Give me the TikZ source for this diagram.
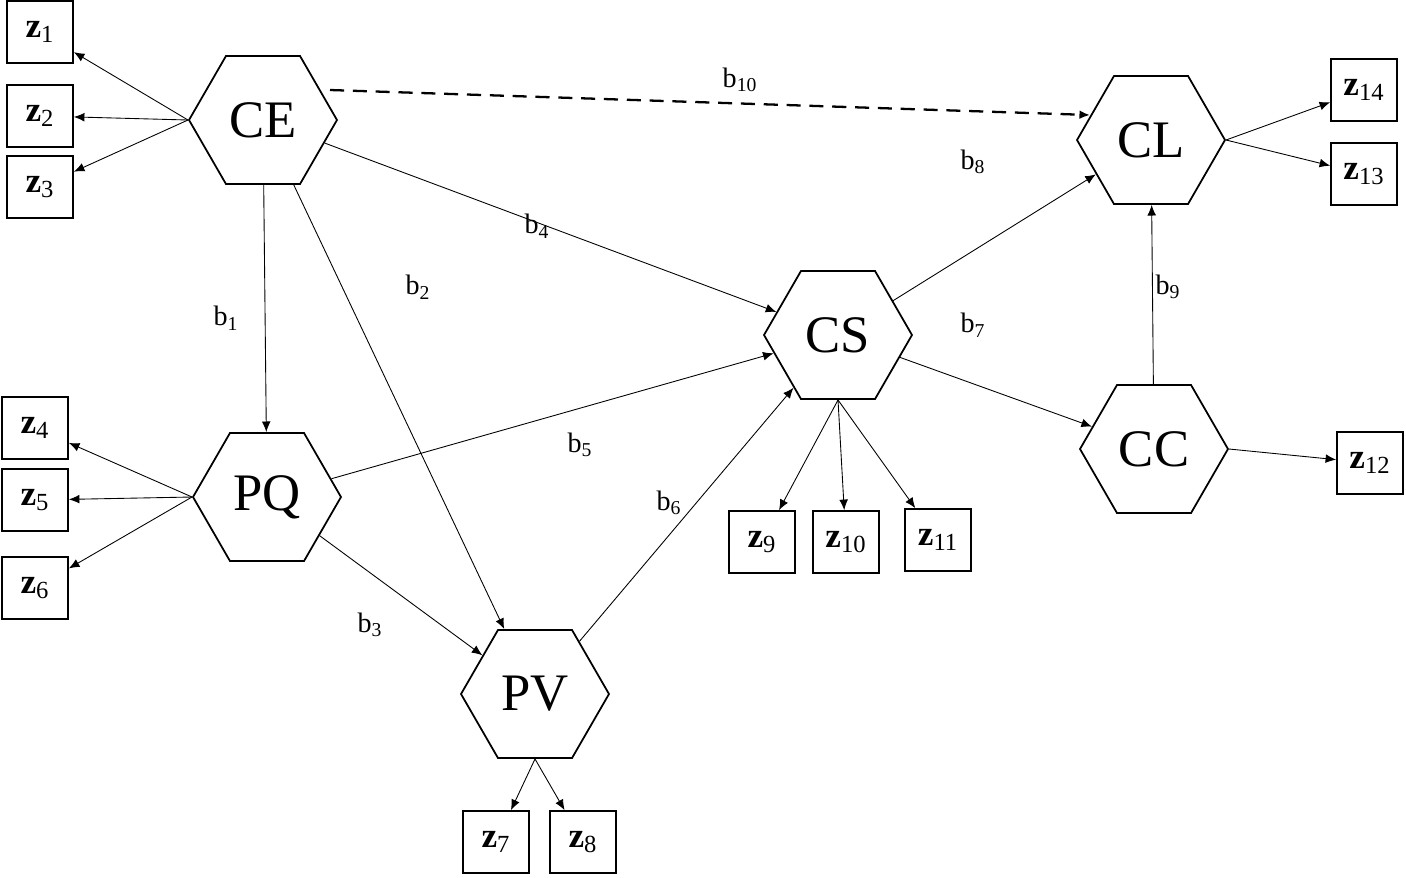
\documentclass[tikz,border=0pt]{standalone}
\usepackage{fontspec}
\setmainfont{Liberation Serif}
\usetikzlibrary{shapes.geometric,arrows.meta}
\begin{document}
\begin{tikzpicture}[x=0.02cm,y=-0.02cm,
 hex/.style={regular polygon,regular polygon sides=6,draw,line width=1pt,minimum size=2.96cm,inner sep=0pt,font=\fontsize{30}{30}\selectfont},
 box/.style={draw,line width=1pt,minimum width=1.32cm,minimum height=1.24cm,inner sep=0pt,font=\fontsize{20}{20}\selectfont},
 arr/.style={-{Latex[length=6pt,width=5pt]},line width=0.5pt},
 lab/.style={font=\fontsize{16}{16}\selectfont}]
\useasboundingbox (0,0) rectangle (1406,877);
\node[hex] (CE) at (263,120) {CE};
\node[hex] (CL) at (1151,140) {CL};
\node[hex] (CS) at (838,335) {CS};
\node[hex] (CC) at (1154,449) {CC};
\node[hex] (PQ) at (267,497) {PQ};
\node[hex] (PV) at (535,694) {PV};
\foreach \n/\x/\y in {1/40/32,2/40/116,3/40/187,4/35/428,5/35/500,6/35/588,7/496/842,8/583/842,9/762/542,10/846/542,11/938/540,12/1370/463,13/1364/174,14/1364/90}
  \node[box] (z\n) at (\x,\y) {\textbf{z}\textsubscript{\n}};
\foreach \n in {1,2,3} \draw[arr] (CE.corner 3) -- (z\n);
\foreach \n in {4,5,6} \draw[arr] (PQ.corner 3) -- (z\n);
\foreach \n in {9,10,11} \draw[arr] (CS.south) -- (z\n);
\foreach \n in {7,8} \draw[arr] (PV.south) -- (z\n);
\foreach \n in {13,14} \draw[arr] (CL.corner 6) -- (z\n);
\draw[arr] (CC.corner 6) -- (z12);
\draw[arr] (CE) -- (PQ);
\draw[arr] (CE) -- (PV);
\draw[arr] (CE) -- (CS);
\draw[arr] (PQ) -- (CS);
\draw[arr] (PQ) -- (PV);
\draw[arr] (PV) -- (CS);
\draw[arr] (CS) -- (CL);
\draw[arr] (CS) -- (CC);
\draw[arr] (CC) -- (CL);
\coordinate (d0) at (330,90);
\coordinate (d1) at (1090,115);
\draw[arr,line width=1.3pt,dash pattern=on 8pt off 5pt] (d0) -- (d1);
\node[lab] at (740,80) {b\textsubscript{10}};
\node[lab] at (973,162) {b\textsubscript{8}};
\node[lab] at (537,226) {b\textsubscript{4}};
\node[lab] at (418,287) {b\textsubscript{2}};
\node[lab] at (226,318) {b\textsubscript{1}};
\node[lab] at (1168,287) {b\textsubscript{9}};
\node[lab] at (973,325) {b\textsubscript{7}};
\node[lab] at (580,445) {b\textsubscript{5}};
\node[lab] at (669,503) {b\textsubscript{6}};
\node[lab] at (370,625) {b\textsubscript{3}};
\end{tikzpicture}
\end{document}
